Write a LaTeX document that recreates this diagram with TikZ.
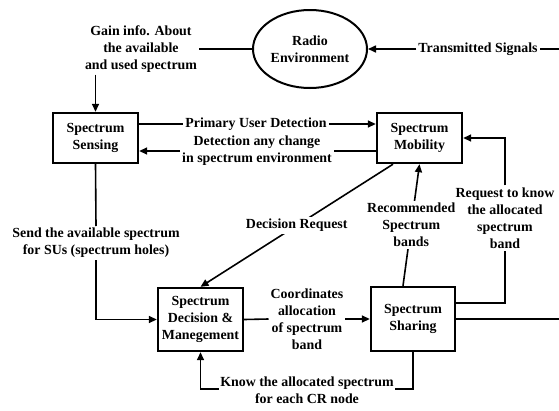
\documentclass[tikz,border=0pt]{standalone}
\usepackage{fontspec}
\setmainfont{Liberation Serif}
\usetikzlibrary{arrows.meta,shapes.geometric}
\tikzset{
  txt/.style={font=\fontsize{13.9}{17}\selectfont\bfseries, align=center, inner sep=2pt},
  lbl/.style={txt, fill=white},
  blk/.style={txt, draw, line width=2.4pt, minimum width=85pt, inner sep=0pt},
  conn/.style={line width=1.6pt},
  arr/.style={conn, -{Triangle[length=8pt,width=7pt]}}
}
\begin{document}
\begin{tikzpicture}[x=1pt,y=-1pt]
\useasboundingbox (0,0) rectangle (559,410);
% nodes
\node[txt, draw, ellipse, line width=2pt, minimum width=114pt, minimum height=78pt, inner sep=0pt] (env) at (310,49) {Radio\\Environment};
\node[txt] (trans) at (478,49) {Transmitted Signals};
\coordinate (eR) at (559,49);
\node[txt] (gain) at (141,49) {Gain info. About\\the available\\and used spectrum};
\node[blk, minimum height=50pt] (sense) at (95.5,138) {Spectrum\\Sensing};
\node[blk, minimum height=50pt] (mob) at (419.5,138) {Spectrum\\Mobility};
\node[blk, minimum height=63pt] (dec) at (200.5,319.5) {Spectrum\\Decision \&\\Manegement};
\node[blk, minimum height=64pt, minimum width=84pt] (shar) at (413,319) {Spectrum\\Sharing};
\node[txt] (pud) at (256,124) {Primary User Detection};
\node[txt] (det) at (257,151) {Detection any change\\in spectrum environment};
\node[txt] (send) at (96,243) {Send the available spectrum\\for SUs (spectrum holes)};
\node[txt] (coord) at (307,319) {Coordinates\\allocation\\of spectrum\\band};
\node[txt] (req) at (505,218) {Request to know\\the allocated\\spectrum\\band};
\coordinate (r1) at (505,303);
\coordinate (sR) at (559,319);
\coordinate (k1) at (413,389);
\coordinate (k2) at (200.5,389);
% connectors
\draw[conn] (eR) -- (trans.east);
\draw[arr] (trans.west) -- (env.east);
\draw[conn] (env.west) -- (gain.east);
\draw[arr] (gain.south -| sense.north) -- (sense.north);
\draw[conn] (sense.east |- pud) -- (pud.west);
\draw[arr] (pud.east) -- (mob.west |- pud);
\draw[conn] (mob.west |- det.east) -- (det.east);
\draw[arr] (det.west) -- (sense.east |- det.west);
\draw[conn] (sense.south) -- (send.north);
\draw[arr] (send.south) |- (dec.west);
\draw[arr] ([xshift=-26.5pt]mob.south) -- (dec.north) node[lbl, midway] {Decision Request};
\draw[arr] ([xshift=-10pt]shar.north) -- (mob.south) node[lbl, midway] {Recommended\\Spectrum\\bands};
\draw[conn] ([yshift=16pt]shar.east) -- (r1) -- (req.south);
\draw[arr] (req.north) |- (mob.east);
\draw[conn] (shar.east) -- (sR);
\draw[conn] (dec.east) -- (coord.west);
\draw[arr] (coord.east) -- (shar.west);
\draw[arr] (shar.south) -- (k1) -- (k2) -- (dec.south);
\node[lbl, inner sep=1pt] (know) at (307,390.5) {Know the allocated spectrum\\for each CR node};
\end{tikzpicture}
\end{document}
